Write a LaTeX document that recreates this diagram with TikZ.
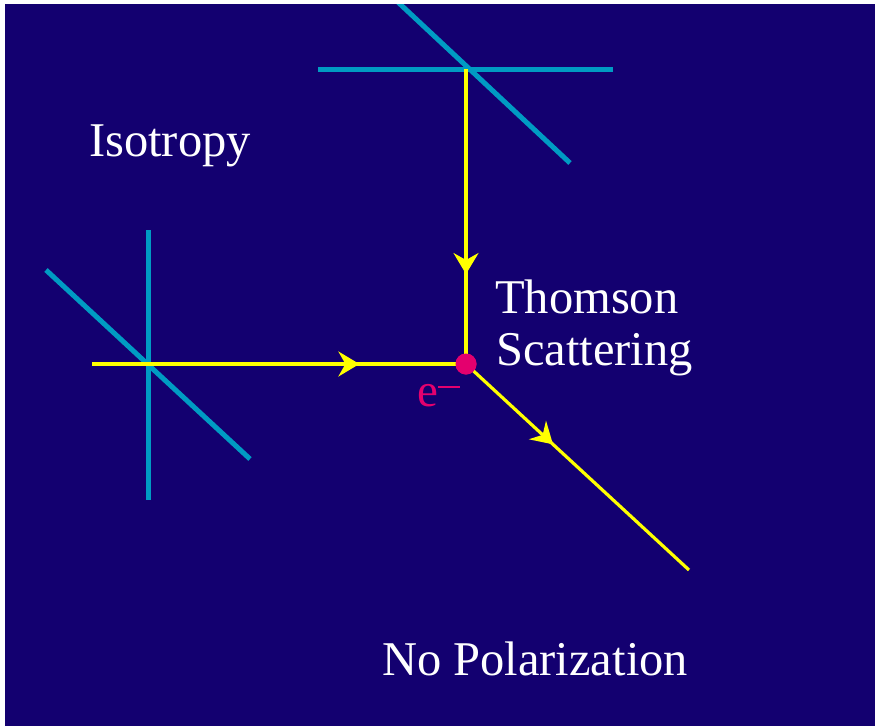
\documentclass[tikz,border=0pt]{standalone}
\usepackage{fontspec}
\setmainfont{Liberation Serif}
\usetikzlibrary{arrows.meta,decorations.markings}
\definecolor{bgblue}{RGB}{19,0,112}
\definecolor{polcyan}{RGB}{0,155,195}
\definecolor{rayyellow}{RGB}{255,255,0}
\definecolor{elecmag}{RGB}{228,0,110}
\tikzset{
  pol/.style={draw=polcyan,line width=5pt},
  ray/.style={draw=rayyellow,line width=3.2pt},
  midarrow/.style={postaction={decorate},decoration={markings,
    mark=at position #1 with {\arrow[rayyellow]{Stealth[length=21pt,width=25pt,inset=7pt]}}}},
  lbl/.style={text=white,font=\fontsize{48.5}{54}\selectfont,inner sep=0pt},
}
\begin{document}
\begin{tikzpicture}[x=1pt,y=-1pt]
\useasboundingbox (0,0) rectangle (875,726);
\fill[bgblue] (5,4) rectangle (875,726);
\begin{scope}
\clip (5,4) rectangle (875,726);
% left polarizer cross
\draw[pol] (148,230) -- (148,500);
\draw[pol] (46,270) -- (250,459);
% top polarizer cross
\draw[pol] (318,69) -- (613,69);
\draw[pol] (385,-10) -- (570,163);
\end{scope}
\coordinate (srcL) at (92,364);
\coordinate (srcT) at (466,69);
\coordinate (out) at (689,570);
\node[circle,fill=elecmag,minimum size=21pt,inner sep=0pt] (e) at (466,364) {};
\draw[ray,midarrow=0.715] (srcL) -- (e.center);
\draw[ray,midarrow=0.695] (srcT) -- (e.center);
\draw[ray,midarrow=0.39] (e.center) -- (out);
\node[circle,fill=elecmag,minimum size=21pt,inner sep=0pt] at (e) {};
\node[text=elecmag,font=\fontsize{47}{52}\selectfont,inner sep=0pt,anchor=base west] (elab) at (417,406) {e\raisebox{18pt}{\rule{22pt}{2.5pt}}};
\node[lbl,anchor=base west] (iso) at (89,156) {Isotropy};
\node[lbl,anchor=base west] (thom) at (495,313) {Thomson};
\node[lbl,anchor=base west] (scat) at (496,365) {Scattering};
\node[lbl,anchor=base west] (nopol) at (382,675) {No Polarization};
\end{tikzpicture}
\end{document}
